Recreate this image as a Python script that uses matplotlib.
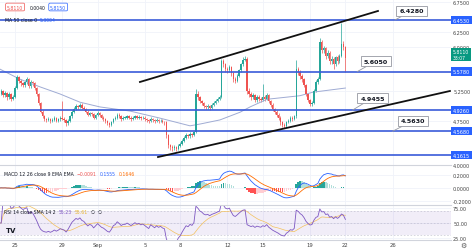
import numpy as np
import pandas as pd
import matplotlib
matplotlib.use("Agg")
import matplotlib.pyplot as plt

# 4h candles, last one opens on 22 Sep (day 28 counted from 25 Aug)
closes = [5.20, 5.25, 5.18, 5.22, 5.15, 5.20, 5.12, 5.15, 5.30, 5.48,
          5.42, 5.38, 5.35, 5.40, 5.45, 5.33, 5.40, 5.38, 5.30, 5.20,
          5.05, 4.90, 4.82, 4.78, 4.76, 4.78, 4.74, 4.76, 4.79, 4.75,
          4.77, 4.80, 4.78, 4.76, 4.70, 4.75, 4.82, 4.90, 4.95, 5.00,
          4.98, 5.02, 4.97, 4.95, 4.90, 4.85, 4.88, 4.86, 4.80, 4.84,
          4.88, 4.84, 4.80, 4.78, 4.74, 4.70, 4.68, 4.72, 4.78, 4.80,
          4.85, 4.82, 4.78, 4.80, 4.80, 4.82, 4.80, 4.78, 4.80, 4.82,
          4.80, 4.81, 4.79, 4.80, 4.78, 4.76, 4.74, 4.78, 4.76, 4.74,
          4.76, 4.74, 4.75, 4.73, 4.72, 4.50, 4.33, 4.30, 4.28, 4.30,
          4.27, 4.32, 4.35, 4.40, 4.45, 4.50, 4.48, 4.52, 4.50, 4.55,
          5.20, 5.15, 5.08, 5.05, 5.00, 4.98, 5.00, 4.97, 5.02, 5.05,
          5.08, 5.12, 5.15, 5.76, 5.70, 5.62, 5.60, 5.66, 5.55, 5.45,
          5.42, 5.50, 5.60, 5.70, 5.78, 5.80, 5.25, 5.20, 5.15, 5.18,
          5.10, 5.15, 5.12, 5.10, 5.15, 5.12, 5.18, 5.08, 5.02, 4.95,
          4.90, 4.85, 4.80, 4.72, 4.68, 4.66, 4.72, 4.75, 4.80, 4.78,
          4.82, 5.62, 5.58, 5.50, 5.45, 5.35, 5.20, 5.10, 5.03, 5.05,
          5.25, 5.40, 5.45, 6.08, 5.95, 5.98, 5.85, 5.90, 5.75, 5.80,
          5.70, 5.82, 5.75, 5.85, 6.05, 6.00, 5.811]
highs = [5.26, 5.28, 5.27, 5.25, 5.24, 5.23, 5.22, 5.18, 5.33, 5.52,
         5.50, 5.45, 5.41, 5.43, 5.49, 5.47, 5.43, 5.42, 5.40, 5.32,
         5.22, 5.07, 4.92, 4.85, 4.80, 4.81, 4.80, 4.79, 4.82, 4.81,
         4.80, 4.83, 5.08, 4.81, 4.78, 4.77, 4.84, 4.92, 4.98, 5.03,
         5.02, 5.05, 5.04, 4.99, 4.97, 4.92, 4.90, 4.90, 4.88, 4.86,
         4.91, 4.90, 4.86, 4.82, 4.80, 4.76, 4.72, 4.75, 4.80, 4.83,
         4.88, 4.87, 4.84, 4.83, 4.83, 4.85, 4.84, 4.82, 4.83, 4.85,
         4.84, 4.84, 4.83, 4.83, 4.82, 4.80, 4.78, 4.81, 4.80, 4.78,
         4.79, 4.78, 4.78, 4.77, 4.75, 4.74, 4.52, 4.36, 4.33, 4.33,
         4.32, 4.35, 4.38, 4.43, 4.48, 4.53, 4.52, 4.55, 4.54, 4.58,
         5.28, 5.25, 5.17, 5.10, 5.07, 5.02, 5.03, 5.02, 5.05, 5.08,
         5.11, 5.15, 5.18, 5.80, 5.79, 5.72, 5.65, 5.69, 5.68, 5.57,
         5.48, 5.53, 5.63, 5.73, 5.82, 5.85, 5.83, 5.30, 5.23, 5.22,
         5.20, 5.18, 5.18, 5.14, 5.37, 5.18, 5.21, 5.20, 5.10, 5.04,
         4.97, 4.92, 4.87, 4.82, 4.74, 4.71, 4.75, 4.78, 4.83, 4.82,
         4.85, 5.78, 5.66, 5.60, 5.53, 5.47, 5.37, 5.22, 5.12, 5.08,
         5.28, 5.43, 5.48, 6.15, 6.12, 6.02, 6.00, 5.94, 5.92, 5.84,
         5.82, 5.85, 5.86, 5.88, 6.40, 6.10, 6.02]
lows = [5.16, 5.18, 5.14, 5.15, 5.10, 5.12, 5.08, 5.09, 5.13, 5.28,
        5.38, 5.34, 5.31, 5.32, 5.37, 5.30, 5.30, 5.34, 5.27, 5.17,
        5.02, 4.87, 4.79, 4.75, 4.73, 4.74, 4.71, 4.72, 4.74, 4.72,
        4.73, 4.75, 4.76, 4.72, 4.66, 4.67, 4.73, 4.80, 4.88, 4.93,
        4.95, 4.96, 4.94, 4.92, 4.87, 4.82, 4.83, 4.83, 4.77, 4.78,
        4.82, 4.81, 4.77, 4.75, 4.71, 4.67, 4.64, 4.66, 4.70, 4.76,
        4.78, 4.79, 4.75, 4.76, 4.77, 4.78, 4.77, 4.75, 4.76, 4.78,
        4.77, 4.78, 4.76, 4.77, 4.75, 4.73, 4.71, 4.72, 4.73, 4.71,
        4.72, 4.71, 4.72, 4.70, 4.68, 4.46, 4.28, 4.25, 4.24, 4.25,
        4.23, 4.25, 4.30, 4.33, 4.38, 4.43, 4.45, 4.46, 4.47, 4.48,
        4.53, 5.10, 5.04, 5.01, 4.96, 4.94, 4.95, 4.93, 4.95, 5.00,
        5.03, 5.06, 5.10, 5.13, 5.66, 5.58, 5.56, 5.57, 5.50, 5.41,
        5.38, 5.40, 5.48, 5.58, 5.68, 5.75, 5.20, 5.15, 5.10, 5.12,
        5.06, 5.07, 5.08, 5.06, 5.08, 5.08, 5.10, 5.04, 4.98, 4.91,
        4.86, 4.81, 4.76, 4.68, 4.64, 4.62, 4.64, 4.70, 4.73, 4.75,
        4.76, 4.80, 5.52, 5.46, 5.41, 5.31, 5.16, 5.06, 4.99, 5.00,
        5.03, 5.23, 5.37, 5.43, 5.90, 5.90, 5.80, 5.81, 5.70, 5.71,
        5.62, 5.67, 5.70, 5.72, 5.83, 5.95, 5.58]
first_open = 5.22
last_day = 28
bar_days = 1 / 6

ma_days = [-1.27, 0.42, 2.12, 3.81, 5.51, 7.2, 9.75, 12.29, 14.83, 15.68,
           17.37, 19.07, 19.92, 21.36, 24.15, 25.25, 28.0]
ma_vals = [5.62, 5.45, 5.32, 5.20, 5.06, 4.98, 4.91, 4.79, 4.66, 4.69,
           4.76, 4.89, 4.98, 5.11, 5.17, 5.23, 5.30]

levels = [6.4530, 5.5780, 4.9260, 4.5680, 4.1615]
upper_x, upper_y = [10.59, 30.76], [5.403, 6.606]
lower_x, lower_y = [12.12, 36.86], [4.131, 5.25]

callouts = ["6.4280", "5.6050", "4.9455", "4.5630"]
callout_at = [(33.6, 6.606), (30.6, 5.758), (30.3, 5.131), (33.7, 4.742)]
callout_tip = [(32.2, 6.453), (29.0, 5.578), (28.6, 4.926), (32.0, 4.568)]

price_ticks = [4.0, 4.75, 5.25, 6.0, 6.25, 6.75]
tick_days = [0, 4, 7, 11, 14, 18, 21, 25, 28, 32]
tick_names = ["25", "29", "Sep", "5", "8", "12", "15", "19", "22", "26"]

UP, DN = "#26a69a", "#ef5350"
BLUE = "#3a5bd9"

c = np.array(closes)
o = np.r_[first_open, c[:-1]]
n = len(c)
x = last_day - (n - 1 - np.arange(n)) * bar_days
hi = np.maximum(np.array(highs), np.maximum(o, c))
lo = np.minimum(np.array(lows), np.minimum(o, c))
col = np.where(c >= o, UP, DN)

s = pd.Series(c)
macd = s.ewm(span=12, adjust=False).mean() - s.ewm(span=26, adjust=False).mean()
signal = macd.ewm(span=9, adjust=False).mean()
hist = (macd - signal).values
hcol = []
for i, h in enumerate(hist):
    prev = hist[i - 1] if i else 0
    if h >= 0:
        hcol.append("#26a69a" if h >= prev else "#b2dfdb")
    else:
        hcol.append("#ffcdd2" if h > prev else "#ff5252")

d = s.diff()
gain = d.clip(lower=0).ewm(alpha=1 / 14, adjust=False).mean()
loss = (-d.clip(upper=0)).ewm(alpha=1 / 14, adjust=False).mean()
rsi = 100 - 100 / (1 + gain / loss.replace(0, np.nan))
rsi = rsi.fillna(50)
rsi_ma = rsi.rolling(14, min_periods=1).mean()

fig = plt.figure(figsize=(4.74, 2.51), dpi=100)
W = 451 / 474
ax = fig.add_axes([0, 1 - 166 / 251, W, 166 / 251])
ax2 = fig.add_axes([0, 1 - 206 / 251, W, 40 / 251], sharex=ax)
ax3 = fig.add_axes([0, 1 - 241 / 251, W, 35 / 251], sharex=ax)

for a in (ax, ax2, ax3):
    a.yaxis.tick_right()
    a.tick_params(length=0, labelsize=3.5, labelcolor="#444444", pad=1.5)
    a.grid(color="#f0f3fa", lw=0.6)
    a.set_axisbelow(True)
    for sp in a.spines.values():
        sp.set_visible(False)
for a in (ax2, ax3):
    a.spines["top"].set_visible(True)
    a.spines["top"].set_color("#d1d4dc")
    a.spines["top"].set_linewidth(0.8)
ax3.spines["bottom"].set_visible(True)
ax3.spines["bottom"].set_color("#d1d4dc")

# price panel
ax.vlines(x, lo, hi, colors=col, lw=0.5, zorder=2)
ax.bar(x, np.maximum(np.abs(c - o), 0.006), bottom=np.minimum(o, c),
       width=bar_days * 0.7, color=col, zorder=3, linewidth=0)
ax.plot(ma_days, ma_vals, color="#9fabd3", lw=0.7, zorder=2)
for lv in levels:
    ax.axhline(lv, color=BLUE, lw=1.2, zorder=4)
ax.plot(upper_x, upper_y, color="#111111", lw=1.3, zorder=5)
ax.plot(lower_x, lower_y, color="#111111", lw=1.3, zorder=5)
for txt, at, tip in zip(callouts, callout_at, callout_tip):
    ax.annotate(txt, xy=tip, xytext=at, ha="center", va="center",
                fontsize=4.6, fontweight="bold", color="#131722", zorder=6,
                bbox=dict(boxstyle="square,pad=0.45", fc="white", ec="#9598a1", lw=0.6),
                arrowprops=dict(arrowstyle="-", color="#9598a1", lw=0.6,
                                shrinkA=0, shrinkB=0))
ax.set_ylim(3.996, 6.809)
ax.set_yticks(price_ticks)
ax.set_yticklabels(["%.4f" % v for v in price_ticks])
ytr = ax.get_yaxis_transform()
for lv in levels:
    ax.text(1.004, lv, "%.4f" % lv, transform=ytr, fontsize=3.5, color="white",
            va="center", ha="left", clip_on=False, zorder=7,
            bbox=dict(boxstyle="square,pad=0.35", fc="#2962ff", ec="none"))
ax.text(1.004, c[-1] + 0.06, "%.4f\n33:07" % c[-1], transform=ytr, fontsize=3.3,
        color="white", va="center", ha="left", clip_on=False, zorder=8,
        linespacing=1.1,
        bbox=dict(boxstyle="square,pad=0.35", fc="#089981", ec="none"))

# MACD panel
ax2.bar(x, hist, width=bar_days * 0.8, color=hcol, linewidth=0)
ax2.plot(x, macd, color="#2962ff", lw=0.6)
ax2.plot(x, signal, color="#ff6d00", lw=0.6)
ax2.set_ylim(-0.252, 0.341)
ax2.set_yticks([-0.2, 0.0, 0.2])
ax2.set_yticklabels(["-0.2000", "0.0000", "0.2000"])

# RSI panel
ax3.axhspan(30, 70, color="#7e57c2", alpha=0.1, lw=0)
for lv in (30, 50, 70):
    ax3.axhline(lv, color="#b8b8c8", lw=0.4, ls=(0, (3, 3)))
ax3.plot(x, rsi_ma, color="#f3c15c", lw=0.5)
ax3.plot(x, rsi, color="#7e57c2", lw=0.6)
ax3.set_ylim(21.7, 80)
ax3.set_yticks([25, 50, 75])
ax3.set_yticklabels(["25.00", "50.00", "75.00"])

ax3.set_xlim(-1.27, 36.95)
ax3.set_xticks(tick_days)
ax3.set_xticklabels(tick_names)
ax3.tick_params(axis="x", labelsize=3.8, pad=1.5)
plt.setp(ax.get_xticklabels(), visible=False)
plt.setp(ax2.get_xticklabels(), visible=False)

renderer = fig.canvas.get_renderer()


def text_row(px, py, parts, size=3.3, gap=3):
    # lay legend pieces left to right so they never collide
    for s, color, box in parts:
        kw = {}
        if box:
            kw["bbox"] = dict(boxstyle="round,pad=0.3", fc="white", ec=color, lw=0.5)
        t = fig.text(px / 474, 1 - py / 251, s, va="center", ha="left",
                     fontsize=size, color=color, **kw)
        ext = t.get_window_extent(renderer)
        px = ext.x1 + gap + (3 if box else 0)


text_row(7, 8, [("5.8110", DN, True), ("0.0040", "#131722", False),
                ("5.8150", "#2962ff", True)], gap=4)
text_row(5, 20, [("MA 50 close 0", "#131722", False), ("5.3004", "#2962ff", False)])
text_row(4, 175, [("MACD 12 26 close 9 EMA EMA", "#131722", False),
                  ("\u22120.0091", "#ef5350", False), ("0.1555", "#2962ff", False),
                  ("0.1646", "#ff6d00", False)])
text_row(4, 212, [("RSI 14 close SMA 14 2", "#131722", False),
                  ("55.23", "#7e57c2", False), ("55.61", "#e8b530", False),
                  ("\u2205", "#131722", False), ("\u2205", "#131722", False)])
fig.text(6 / 474, 1 - 231 / 251, "TV", fontsize=5, color="#131722",
         fontweight="bold", va="center", ha="left")
fig.text(460 / 474, 1 - 246 / 251, "\u2699", fontsize=5, color="#555555",
         va="center", ha="left")

fig.savefig("out.png", dpi=100)
